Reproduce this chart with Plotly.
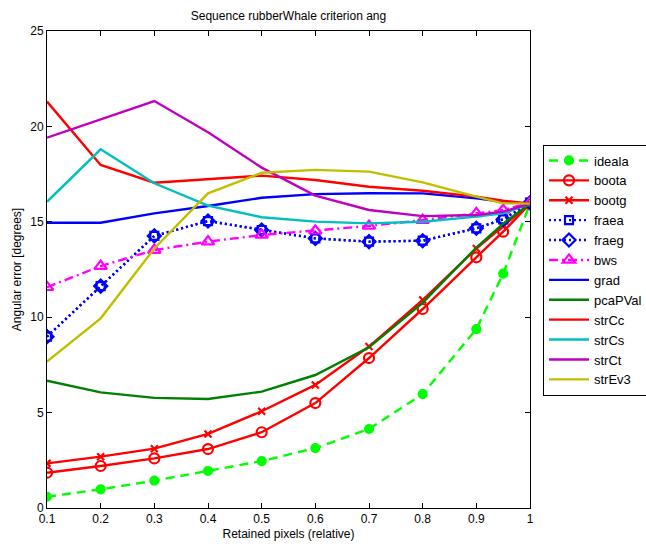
import plotly.graph_objects as go

x = [0.1, 0.2, 0.3, 0.4, 0.5, 0.6, 0.7, 0.8, 0.9, 0.95, 1.0]

ideala  = [0.59, 0.98, 1.43, 1.94, 2.46, 3.14, 4.14, 5.97, 9.38, 12.28, 15.95]
boota   = [1.85, 2.20, 2.60, 3.09, 3.97, 5.50, 7.86, 10.43, 13.14, 14.48, 15.95]
bootg   = [2.34, 2.69, 3.11, 3.88, 5.07, 6.45, 8.46, 10.90, 13.60, 14.75, 15.95]
fraea   = [8.98, 11.63, 14.26, 15.04, 14.57, 14.13, 13.96, 14.01, 14.66, 15.13, 16.0]
fraeg   = [8.98, 11.63, 14.26, 15.04, 14.57, 14.13, 13.96, 14.01, 14.66, 15.13, 16.0]
bws     = [11.57, 12.68, 13.52, 13.96, 14.31, 14.53, 14.78, 15.09, 15.44, 15.62, 16.0]
grad    = [14.95, 14.95, 15.44, 15.83, 16.26, 16.45, 16.50, 16.49, 16.23, 16.05, 15.95]
pcaPVal = [6.67, 6.06, 5.77, 5.71, 6.10, 6.97, 8.42, 10.75, 13.65, 14.90, 15.95]
strCc   = [21.3, 17.98, 17.05, 17.23, 17.42, 17.19, 16.84, 16.63, 16.32, 16.10, 15.95]
strCs   = [16.05, 18.8, 17.02, 15.85, 15.24, 15.01, 14.92, 15.0, 15.27, 15.44, 15.95]
strCt   = [19.41, 20.37, 21.33, 19.69, 17.84, 16.37, 15.62, 15.30, 15.36, 15.53, 15.95]
strEv3  = [7.67, 9.94, 13.6, 16.49, 17.57, 17.72, 17.63, 17.07, 16.32, 15.97, 15.95]

x_ticks = [0.1, 0.2, 0.3, 0.4, 0.5, 0.6, 0.7, 0.8, 0.9, 1.0]
x_labels = ["0.1", "0.2", "0.3", "0.4", "0.5", "0.6", "0.7", "0.8", "0.9", "1"]
y_ticks = [0, 5, 10, 15, 20, 25]

series = [
    ("ideala", ideala, "#00ff00", "9px,6px", "circle", 8),
    ("boota", boota, "#ff0000", "solid", "circle-open", 10),
    ("bootg", bootg, "#ff0000", "solid", "x-thin-open", 7),
    ("fraea", fraea, "#0000ff", "2px,3px", "square-open", 8),
    ("fraeg", fraeg, "#0000ff", "2px,3px", "diamond-open", 10),
    ("bws", bws, "#ff00ff", "9px,4px,2px,4px", "triangle-up-open", 11),
    ("grad", grad, "#0000ff", "solid", None, 0),
    ("pcaPVal", pcaPVal, "#008000", "solid", None, 0),
    ("strCc", strCc, "#ff0000", "solid", None, 0),
    ("strCs", strCs, "#00bfbf", "solid", None, 0),
    ("strCt", strCt, "#bf00bf", "solid", None, 0),
    ("strEv3", strEv3, "#bfbf00", "solid", None, 0),
]

fig = go.Figure()
for name, ys, color, dash, sym, size in series:
    if sym:
        fig.add_trace(go.Scatter(
            x=x, y=ys, name=name, mode="lines+markers",
            line=dict(color=color, width=2.4, dash=dash),
            marker=dict(symbol=sym, size=size, color=color,
                        line=dict(color=color, width=2.2)),
        ))
    else:
        fig.add_trace(go.Scatter(
            x=x, y=ys, name=name, mode="lines",
            line=dict(color=color, width=2.4, dash=dash),
        ))

FONT = "Liberation Sans, Arial"
axis_common = dict(
    showline=True, linecolor="black", linewidth=1, mirror="ticks",
    ticks="inside", ticklen=5, tickcolor="black", showgrid=False,
    zeroline=False, tickfont=dict(family=FONT, size=12, color="black"),
)

fig.update_layout(
    width=646, height=547,
    margin=dict(l=47, r=116, t=31, b=39, autoexpand=False),
    paper_bgcolor="white", plot_bgcolor="white",
    title=dict(text="Sequence rubberWhale criterion ang", x=(47 + 483 / 2) / 646,
               xanchor="center", y=1 - 16 / 547, yanchor="middle",
               font=dict(family=FONT, size=12, color="black")),
    xaxis=dict(range=[0.1, 1.0], tickvals=x_ticks, ticktext=x_labels,
               title=dict(text="Retained pixels (relative)", standoff=4,
                          font=dict(family=FONT, size=12, color="black")),
               **axis_common),
    yaxis=dict(range=[0, 25], tickvals=y_ticks,
               title=dict(text="Angular error [degrees]", standoff=6,
                          font=dict(family=FONT, size=12, color="black")),
               **axis_common),
    legend=dict(x=(543 - 47) / 483, y=(508 - 270) / 477, xanchor="left", yanchor="middle",
                bordercolor="black", borderwidth=1, bgcolor="white",
                font=dict(family=FONT, size=13, color="black"),
                tracegroupgap=0, itemwidth=40),
    showlegend=True,
)

fig.write_html("out.html")
